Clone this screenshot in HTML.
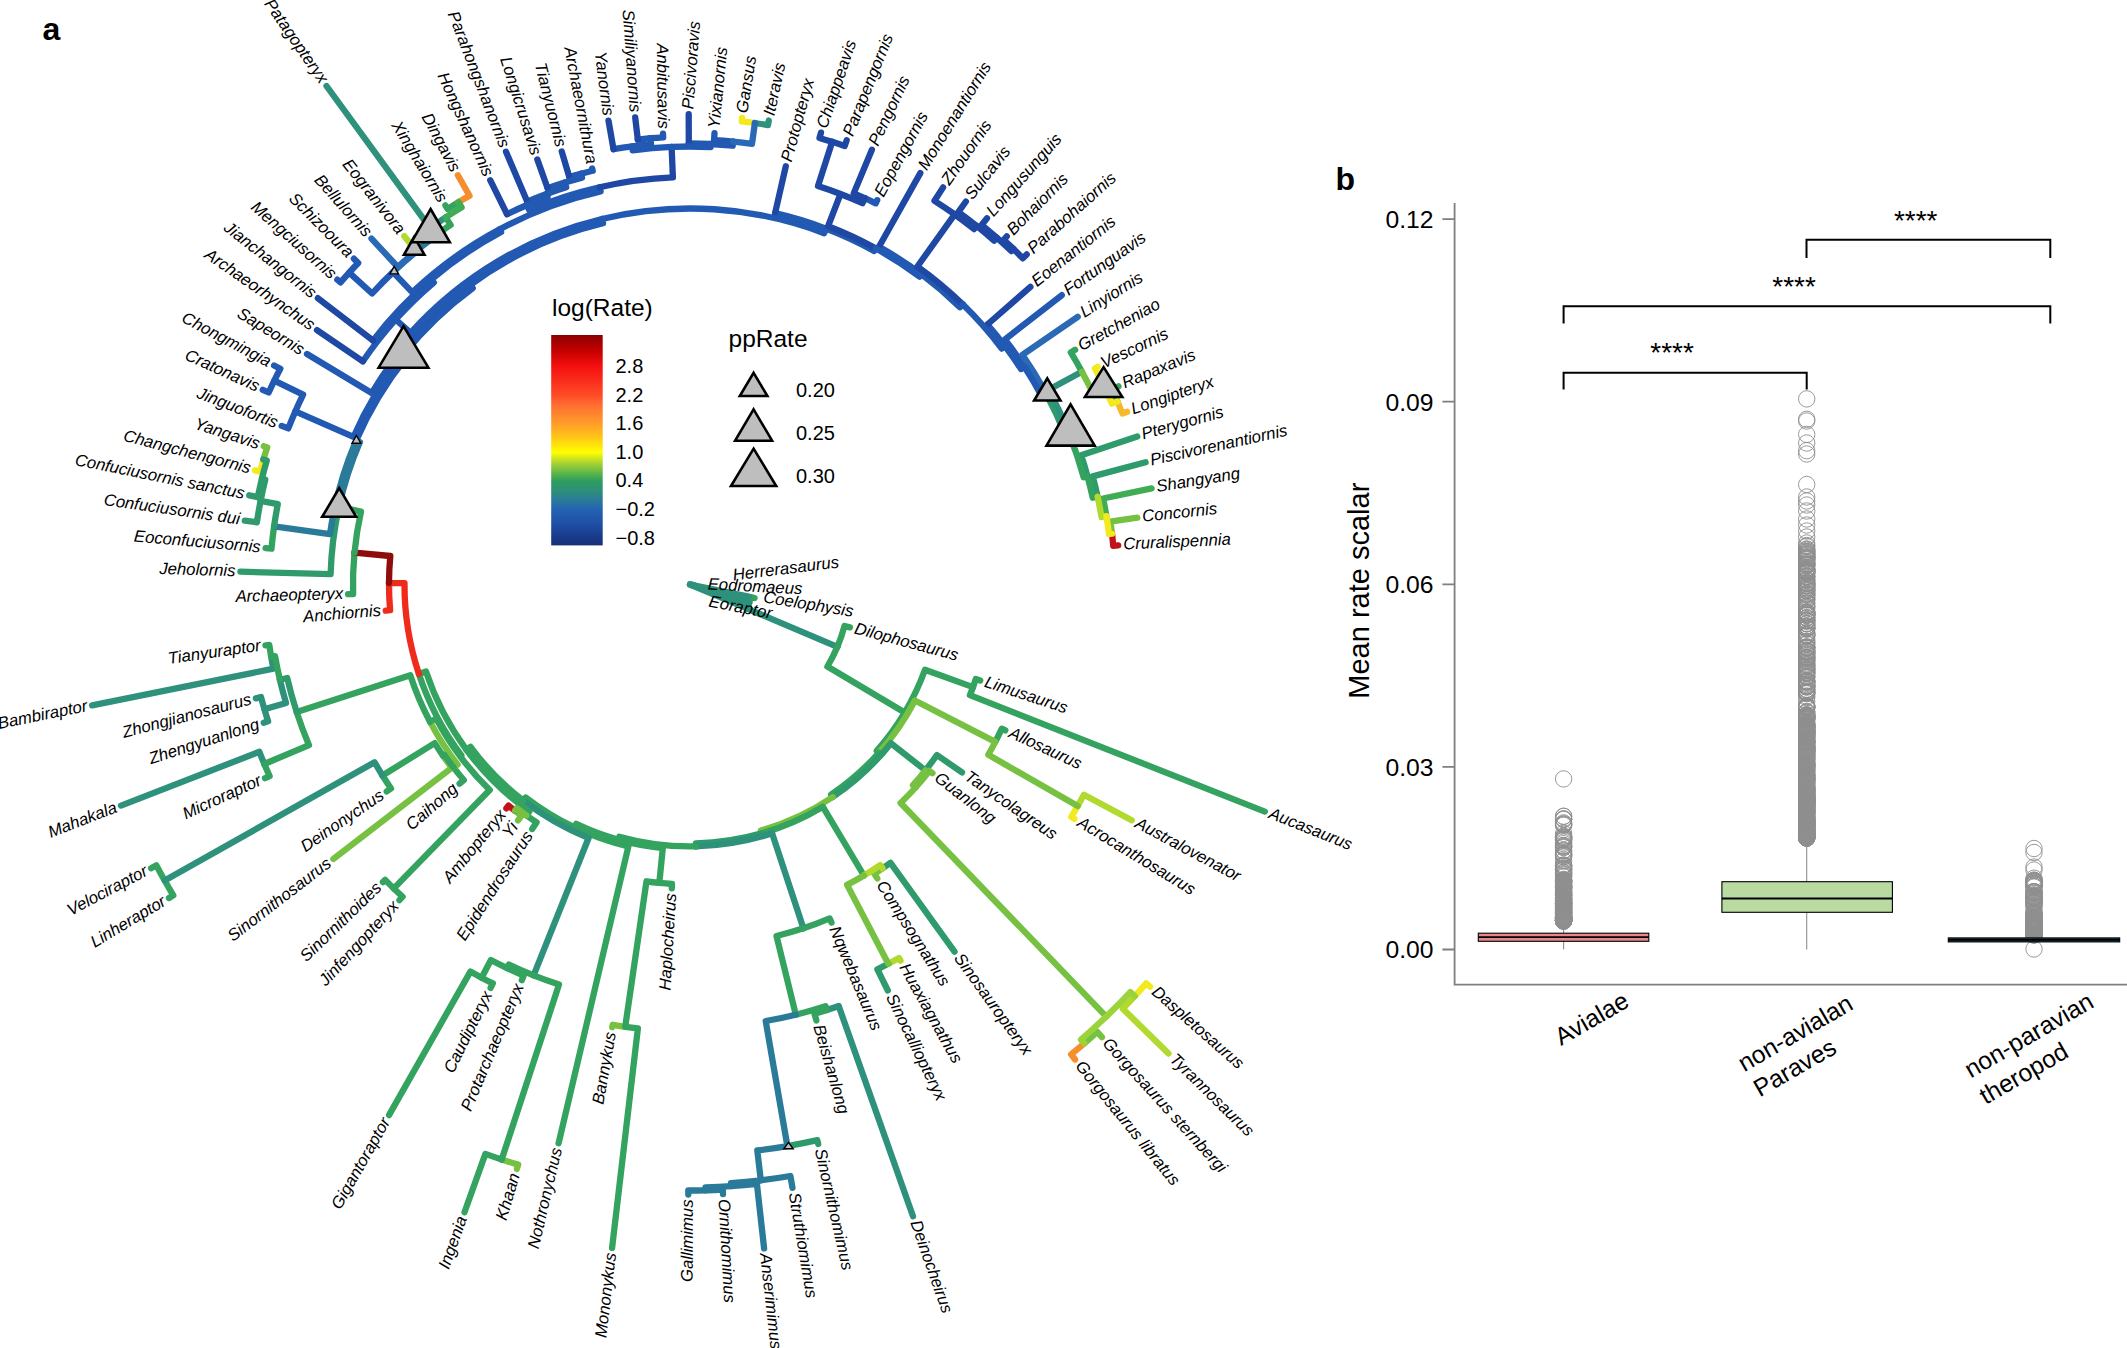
<!DOCTYPE html>
<html><head><meta charset="utf-8"><title>Figure</title>
<style>html,body{margin:0;padding:0;background:#fff}svg{display:block}</style></head>
<body>
<svg width="2127" height="1348" viewBox="0 0 2127 1348">
<rect width="2127" height="1348" fill="#fff"/>
<defs><linearGradient id="cb" x1="0" y1="1" x2="0" y2="0"><stop offset="0.000" stop-color="#17307a"/><stop offset="0.033" stop-color="#193886"/><stop offset="0.101" stop-color="#1f4ea6"/><stop offset="0.169" stop-color="#2362b2"/><stop offset="0.215" stop-color="#2a7a9a"/><stop offset="0.260" stop-color="#2e8f78"/><stop offset="0.306" stop-color="#2f9d60"/><stop offset="0.340" stop-color="#56b44a"/><stop offset="0.374" stop-color="#8cc83c"/><stop offset="0.408" stop-color="#c6e024"/><stop offset="0.442" stop-color="#ffff00"/><stop offset="0.511" stop-color="#ffc814"/><stop offset="0.579" stop-color="#ff9d2a"/><stop offset="0.670" stop-color="#ff6c32"/><stop offset="0.716" stop-color="#ff4a26"/><stop offset="0.852" stop-color="#f40f0f"/><stop offset="0.920" stop-color="#c80000"/><stop offset="1.000" stop-color="#8b0000"/></linearGradient></defs>
<g fill="none" stroke-width="6.3" stroke-linecap="round" stroke-linejoin="round">
<path stroke="#2e917c" d="M690 584.5L692 584.6M691 584.7A1 1 0 0 0 691 584.6L693 584.8M691.9 584.9A2 2 0 0 0 692 584.8L694 585.1"/>
<path stroke="#33a35f" d="M749.2 603A62 62 0 0 0 750.7 597.1L754.6 598M837.4 646.8A160 160 0 0 0 844.5 626L849.9 627.4M973 687.1A301 301 0 0 0 975.8 679L980.2 680.5M973 687.1A301 301 0 0 1 969.9 695.1L1264.8 811.6M995.3 741.9A343.5 343.5 0 0 0 1001.8 728.7L1005.3 730.4"/>
<path stroke="#b2d92d" d="M1077.7 805.9A446.5 446.5 0 0 0 1083.9 794.8L1131.7 820.3"/>
<path stroke="#f2ea1e" d="M1077.7 805.9A446.5 446.5 0 0 1 1071.3 816.9L1074.4 818.8"/>
<path stroke="#2f9a6c" d="M925.4 770.4A300 300 0 0 0 936.9 755L962 772.4"/>
<path stroke="#77c142" d="M915.6 787.5A303.5 303.5 0 0 0 929.5 770.9L932.5 773.2"/>
<path stroke="#f2ea1e" d="M1134.7 996.2A606 606 0 0 0 1146.2 983.4L1150 986.7"/>
<path stroke="#b2d92d" d="M1134.7 996.2A606 606 0 0 1 1122.8 1008.7L1168.5 1053.5"/>
<path stroke="#77c142" d="M1084.3 1043.4A605 605 0 0 0 1097.2 1031.9L1101.9 1037.1"/>
<path stroke="#f58e2f" d="M1084.3 1043.4A605 605 0 0 1 1071.1 1054.4L1075.1 1059.5"/>
<path stroke="#2f9a6c" d="M882.5 868.4A343 343 0 0 0 890.5 862.8L954.5 951.6"/>
<path stroke="#77c142" d="M882.5 868.4A343 343 0 0 1 874.3 873.8L877.3 878.4"/>
<path stroke="#b2d92d" d="M888.3 963.8A428 428 0 0 0 899 958L900.5 960.6"/>
<path stroke="#2f9a6c" d="M888.3 963.8A428 428 0 0 1 877.4 969.3L887.8 990.5"/>
<path stroke="#33a35f" d="M803.4 928.3A362 362 0 0 0 829.7 918.4L831.5 922.6"/>
<path stroke="#2e917c" d="M826.7 1010.1A447 447 0 0 0 838.7 1006L913 1216.3"/>
<path stroke="#33a35f" d="M826.7 1010.1A447 447 0 0 1 814.5 1013.8L816.4 1020.5"/>
<path stroke="#2f9a6c" d="M787.4 1146.1A570 570 0 0 0 817.3 1140.1L818.2 1144"/>
<path stroke="#2a7a99" d="M760.8 1180.3A600 600 0 0 0 790.4 1176L792.5 1187.9M731.2 1186.1A603 603 0 0 0 756.9 1183.8L764.1 1248.4M705.5 1190.3A606 606 0 0 0 722.8 1189.6L723 1194.1M705.5 1190.3A606 606 0 0 1 688.3 1190.5L688.3 1194.5"/>
<path stroke="#33a35f" d="M659.3 882.9A300 300 0 0 0 672 884L671.8 888.4M625.2 1026.8A447 447 0 0 0 637.9 1028.4L612.1 1247.9"/>
<path stroke="#77c142" d="M625.2 1026.8A447 447 0 0 1 612.7 1024.8L612.2 1027.2"/>
<path stroke="#33a35f" d="M574.4 827.4A269 269 0 0 0 628.4 846.4L558.6 1143.3"/>
<path stroke="#77c142" d="M501.7 1159.5A605 605 0 0 0 518.2 1164.6L516.9 1168.9"/>
<path stroke="#33a35f" d="M501.7 1159.5A605 605 0 0 1 485.4 1153.9L464.5 1212.2M507.2 968.2A425 425 0 0 0 523.7 975.6L521.8 980.2M481.6 977.7A445 445 0 0 0 492.8 983.4L490.6 987.9M481.6 977.7A445 445 0 0 1 470.4 971.6L389 1115.1M526.5 815.5A283 283 0 0 0 536.6 822.3L532.2 829"/>
<path stroke="#77c142" d="M515 810.7A286 286 0 0 0 521.5 815.6L518 820.4"/>
<path stroke="#c1121b" d="M515 810.7A286 286 0 0 1 508.6 805.6L506.4 808.3"/>
<path stroke="#33a35f" d="M393.8 888.4A424.4 424.4 0 0 0 402.6 896.7L399.4 900.1M393.8 888.4A424.4 424.4 0 0 1 385.2 879.9L382.9 882.1M453.7 767.6A299 299 0 0 0 463.8 780L459.6 783.6"/>
<path stroke="#77c142" d="M443 755.6A300.5 300.5 0 0 0 451.8 767.7L333.3 858.9"/>
<path stroke="#33a35f" d="M382.5 775.5A362 362 0 0 0 391 788.5L386.7 791.4M164.7 880.5A603 603 0 0 0 173.3 895.4L169 898M164.7 880.5A603 603 0 0 1 156.4 865.4L151.1 868.2M264.3 764A462 462 0 0 0 269.6 776.1L265 778.2"/>
<path stroke="#2e917c" d="M264.3 764A462 462 0 0 1 259.4 751.8L121 805.6M264.4 709.2A443.5 443.5 0 0 0 268.1 721.3L263.7 722.8M264.4 709.2A443.5 443.5 0 0 1 261 697L255.9 698.4M271.2 656.8A425 425 0 0 0 273.4 668.7L92.1 705.4"/>
<path stroke="#33a35f" d="M271.2 656.8A425 425 0 0 1 269.3 644.9L265.5 645.4"/>
<path stroke="#ef2c1c" d="M389 583.1A301 301 0 0 0 390.1 610.2L385.8 610.6"/>
<path stroke="#33a35f" d="M354.5 552.6A337 337 0 0 0 353.1 594.1L348.1 594.2"/>
<path stroke="#2f9a6c" d="M339 506.8A359.5 359.5 0 0 0 330.6 574.2L240.4 571.7"/>
<path stroke="#33a35f" d="M274.1 526.3A420 420 0 0 0 271.5 548.6L265.6 548.1"/>
<path stroke="#2f9a6c" d="M260.6 500.8A437.5 437.5 0 0 0 256.9 522.3L244.8 520.6M261.9 478.7A441 441 0 0 0 257.8 497.1L249.2 495.3"/>
<path stroke="#f2ea1e" d="M263.4 459.5A444.5 444.5 0 0 0 260.1 471.7L255 470.4"/>
<path stroke="#77c142" d="M263.4 459.5A444.5 444.5 0 0 1 267.2 447.4L263.8 446.3"/>
<path stroke="#2259b3" d="M295.3 411.4A431 431 0 0 0 288.3 428.4L281.7 425.9M274.3 380.6A463 463 0 0 0 268.7 392.5L262.8 389.8M274.3 380.6A463 463 0 0 1 280.3 368.8L274.1 365.5M470.3 284.9A371.5 371.5 0 0 0 371.7 393L307 354M395.7 319.5A396 396 0 0 0 362.9 361.3"/>
<path stroke="#1e48a4" d="M362.9 361.3L317 330.1"/>
<path stroke="#2259b3" d="M431.2 279.5A400 400 0 0 0 373 340.6"/>
<path stroke="#1e48a4" d="M373 340.6L317.9 298.2"/>
<path stroke="#2259b3" d="M349.2 272.6A462 462 0 0 0 340.5 282.4L337.3 279.7M349.2 272.6A462 462 0 0 1 358.2 263L353.9 258.7"/>
<path stroke="#2a69b5" d="M415.1 251.9A431.5 431.5 0 0 0 397.8 267L371.5 238.6"/>
<path stroke="#b2d92d" d="M433 237.3A432 432 0 0 0 416 250.5L404.3 236.2"/>
<path stroke="#2e917c" d="M445.7 217.4A441 441 0 0 0 430.2 228.2L326.5 86"/>
<path stroke="#33a35f" d="M458.5 202.1A447 447 0 0 0 447.7 208.9L445.4 205.4"/>
<path stroke="#f58e2f" d="M458.5 202.1A447 447 0 0 1 469.5 195.7L457.9 175.3"/>
<path stroke="#2259b3" d="M527.1 205A413 413 0 0 0 507 214.2"/>
<path stroke="#1e48a4" d="M507 214.2L490.2 180.2"/>
<path stroke="#2259b3" d="M546.5 194A416 416 0 0 0 527.3 201.7"/>
<path stroke="#1e48a4" d="M527.3 201.7L506 151.7"/>
<path stroke="#2259b3" d="M564.7 182.6A421 421 0 0 0 547.6 188.3"/>
<path stroke="#1e48a4" d="M547.6 188.3L537.3 159.4"/>
<path stroke="#2259b3" d="M581 173.7A425 425 0 0 0 569.3 177"/>
<path stroke="#1e48a4" d="M569.3 177L561.7 151.4"/>
<path stroke="#2259b3" d="M581 173.7A425 425 0 0 1 592.7 170.8L592.2 168.5M632.2 146.3A442 442 0 0 0 613.5 149.2"/>
<path stroke="#1e48a4" d="M613.5 149.2L608.5 120.6"/>
<path stroke="#2259b3" d="M650.5 138.2A448 448 0 0 0 637.8 139.6"/>
<path stroke="#1e48a4" d="M637.8 139.6L635.2 117.3"/>
<path stroke="#2259b3" d="M650.5 138.2A448 448 0 0 1 663.2 137.3L663 133.7M710.7 144A441 441 0 0 0 688.8 143.5"/>
<path stroke="#1e48a4" d="M688.8 143.5L688.7 114.1"/>
<path stroke="#2259b3" d="M733.1 141.6A445 445 0 0 0 714.1 140.2L714.5 133.2"/>
<path stroke="#f2ea1e" d="M754.9 123A466 466 0 0 0 741.7 121.4L742.1 117.9"/>
<path stroke="#2e917c" d="M754.9 123A466 466 0 0 1 768 125.1L768.8 120.5"/>
<path stroke="#2259b3" d="M825.9 228.6A381 381 0 0 0 775.1 213.1"/>
<path stroke="#1e48a4" d="M775.1 213.1L785.8 166.3M832.2 141.8A465 465 0 0 0 819.5 137.9L821 132.6M832.2 141.8A465 465 0 0 1 844.7 146L846.7 140.3M864.7 198.2A424 424 0 0 0 853.7 193.4L871.9 149.7"/>
<path stroke="#2259b3" d="M864.7 198.2A424 424 0 0 1 875.7 203.3L877.2 200.2M921.5 274.3A387 387 0 0 0 879 246.8"/>
<path stroke="#1e48a4" d="M879 246.8L920.3 173.1M954.7 214.4A455 455 0 0 0 934.5 200.8L943.1 187.4M976.6 225.9A459 459 0 0 0 958.3 212.1L965.9 201.5M996.7 237.7A463 463 0 0 0 981.6 224.9L987 218.3M1013.4 248.9A466 466 0 0 0 1003.7 239.9L1006.8 236.4M1013.4 248.9A466 466 0 0 1 1022.8 258.3L1026.7 254.4"/>
<path stroke="#2259b3" d="M1005 346.1A395 395 0 0 0 987.4 324.5"/>
<path stroke="#1e48a4" d="M987.4 324.5L1030.4 286.9"/>
<path stroke="#2259b3" d="M1024.4 366.8A399 399 0 0 0 1004.9 339.4L1061.8 295.2"/>
<path stroke="#2a69b5" d="M1045.9 393.3A404 404 0 0 0 1022.4 354.9L1077.7 316.8"/>
<path stroke="#33a35f" d="M1081.9 371.7A446 446 0 0 0 1070.8 352.4L1075.1 349.8"/>
<path stroke="#f2ea1e" d="M1103.8 385.9A459 459 0 0 0 1094.9 368.4L1097.6 366.9"/>
<path stroke="#33a35f" d="M1117.4 401.4A465 465 0 0 0 1112 389.3L1118.4 386.3"/>
<path stroke="#f6b92d" d="M1117.4 401.4A465 465 0 0 1 1122.5 413.6L1127.1 411.8"/>
<path stroke="#2f9a6c" d="M1087.5 476.3A412 412 0 0 0 1081.2 455.2L1137.3 436.6M1097.6 496.6A417 417 0 0 0 1092.7 476.4L1145.6 462.2"/>
<path stroke="#40ad55" d="M1106.4 516.2A422 422 0 0 0 1103.1 498.5L1151.6 488.4"/>
<path stroke="#77c142" d="M1112 533.7A425 425 0 0 0 1110.3 521.7L1137.3 517.7"/>
<path stroke="#c1121b" d="M1112 533.7A425 425 0 0 1 1113.2 545.8L1118.2 545.3"/>
<path stroke="#2e917c" d="M690 584.5L691 584.7M691 584.7A1 1 0 0 1 691 584.7L691.9 584.9M691.9 584.9A2 2 0 0 1 691.9 585.1L749.2 603M749.2 603A62 62 0 0 1 747.1 608.6L837.4 646.8"/>
<path stroke="#33a35f" d="M837.4 646.8A160 160 0 0 1 827.4 666.5L904.7 712.5M904.7 712.5A250 250 0 0 0 925 669.7L973 687.1M904.7 712.5A250 250 0 0 1 876.7 750.8L878.9 752.8"/>
<path stroke="#77c142" d="M878.9 752.8A253 253 0 0 0 914.9 700.5L995.3 741.9M995.3 741.9A343.5 343.5 0 0 1 988.3 754.8L1077.7 805.9"/>
<path stroke="#33a35f" d="M878.9 752.8A253 253 0 0 1 831.1 794.5L832.8 797"/>
<path stroke="#2f9a6c" d="M832.8 797A256 256 0 0 0 890.9 743.2L925.4 770.4"/>
<path stroke="#77c142" d="M925.4 770.4A300 300 0 0 1 913 785.2L915.6 787.5M915.6 787.5A303.5 303.5 0 0 1 900.6 803L1106.3 1016.6"/>
<path stroke="#9ad33a" d="M1106.3 1016.6A600 600 0 0 0 1130.3 992.1L1134.7 996.2M1106.3 1016.6A600 600 0 0 1 1081 1039.6L1084.3 1043.4"/>
<path stroke="#77c142" d="M832.8 797A256 256 0 0 1 760.9 830.5L761.8 833.4"/>
<path stroke="#33a35f" d="M761.8 833.4A259 259 0 0 0 822.9 806.8L863.9 875.5"/>
<path stroke="#b2d92d" d="M863.9 875.5A339 339 0 0 0 880.2 865.1L882.5 868.4"/>
<path stroke="#77c142" d="M863.9 875.5A339 339 0 0 1 847.1 884.9L888.3 963.8"/>
<path stroke="#2f9a6c" d="M761.8 833.4A259 259 0 0 1 695.9 843.4L695.9 846.4"/>
<path stroke="#2e917c" d="M695.9 846.4A262 262 0 0 0 772.1 833.3L803.4 928.3"/>
<path stroke="#33a35f" d="M803.4 928.3A362 362 0 0 1 776.5 936L795.8 1014.7M795.8 1014.7A443 443 0 0 0 825.5 1006.3L826.7 1010.1"/>
<path stroke="#2a7a99" d="M795.8 1014.7A443 443 0 0 1 765.7 1021L787.4 1146.1M787.4 1146.1A570 570 0 0 1 757.3 1150.5L760.8 1180.3M760.8 1180.3A600 600 0 0 1 731 1183.1L731.2 1186.1M731.2 1186.1A603 603 0 0 1 705.5 1187.3L705.5 1190.3"/>
<path stroke="#33a35f" d="M695.9 846.4A262 262 0 0 1 619.3 836.8L618.5 839.7M618.5 839.7A265 265 0 0 0 662.8 848.1L659.3 882.9M659.3 882.9A300 300 0 0 1 646.5 881.3L625.2 1026.8M618.5 839.7A265 265 0 0 1 576.2 823.8L574.4 827.4M574.4 827.4A269 269 0 0 1 525.7 797.5L523.2 800.6"/>
<path stroke="#2e917c" d="M523.2 800.6A273 273 0 0 0 588.6 838L533.6 975.4"/>
<path stroke="#33a35f" d="M533.6 975.4A421 421 0 0 0 559 984.6L501.7 1159.5M533.6 975.4A421 421 0 0 1 508.9 964.5L507.2 968.2M507.2 968.2A425 425 0 0 1 490.9 960L481.6 977.7M523.2 800.6A273 273 0 0 1 470.5 746.9L466.5 749.8M466.5 749.8A278 278 0 0 0 529.4 811.4L526.5 815.5"/>
<path stroke="#77c142" d="M526.5 815.5A283 283 0 0 1 516.8 808.3L515 810.7"/>
<path stroke="#33a35f" d="M466.5 749.8A278 278 0 0 1 426 671.6L418.9 674M418.9 674A285.5 285.5 0 0 0 461.4 755.5L460.2 756.4M460.2 756.4A287 287 0 0 0 489.7 790L393.8 888.4M460.2 756.4A287 287 0 0 1 436.3 718.7L430.1 721.9"/>
<path stroke="#77c142" d="M430.1 721.9A294 294 0 0 0 457.6 764.6L453.7 767.6"/>
<path stroke="#33a35f" d="M453.7 767.6A299 299 0 0 1 444.2 754.8L443 755.6M443 755.6A300.5 300.5 0 0 1 434.7 743.1L382.5 775.5"/>
<path stroke="#2e917c" d="M382.5 775.5A362 362 0 0 1 374.6 762.2L164.7 880.5"/>
<path stroke="#33a35f" d="M430.1 721.9A294 294 0 0 1 410.3 675.2L296.7 712.1M296.7 712.1A413.5 413.5 0 0 0 309 745.2L264.3 764"/>
<path stroke="#2f9a6c" d="M296.7 712.1A413.5 413.5 0 0 1 287.2 678L279.9 679.7"/>
<path stroke="#2e917c" d="M279.9 679.7A421 421 0 0 0 286 702.9L264.4 709.2"/>
<path stroke="#33a35f" d="M279.9 679.7A421 421 0 0 1 275.1 656.2L271.2 656.8"/>
<path stroke="#ef2c1c" d="M418.9 674A285.5 285.5 0 0 1 404.5 583.2L389 583.1"/>
<path stroke="#8f0c0c" d="M389 583.1A301 301 0 0 1 390.3 556L354.5 552.6"/>
<path stroke="#33a35f" d="M354.5 552.6A337 337 0 0 1 361 511.6L339 506.8"/>
<path stroke="#2a7a99" d="M339 506.8A359.5 359.5 0 0 1 359.9 442.1L356.2 440.5M356.2 440.5A363.5 363.5 0 0 0 330 534.1L274.1 526.3"/>
<path stroke="#2f9a6c" d="M274.1 526.3A420 420 0 0 1 277.8 504.2L260.6 500.8M260.6 500.8A437.5 437.5 0 0 1 265.3 479.5L261.9 478.7M261.9 478.7A441 441 0 0 1 266.8 460.5L263.4 459.5"/>
<path stroke="#2259b3" d="M356.2 440.5A363.5 363.5 0 0 1 406.4 357.2L403.2 354.7M403.2 354.7A367.5 367.5 0 0 0 353.5 436.9L295.3 411.4M295.3 411.4A431 431 0 0 1 303.1 394.6L274.3 380.6M403.2 354.7A367.5 367.5 0 0 1 472.7 288.2L470.3 284.9M470.3 284.9A371.5 371.5 0 0 1 603 223.3L601.9 219M601.9 219A376 376 0 0 0 410.6 332.9L395.7 319.5M395.7 319.5A396 396 0 0 1 433.8 282.5L431.2 279.5M431.2 279.5A400 400 0 0 1 501.1 231.9L499.7 229.3M499.7 229.3A403 403 0 0 0 412.3 292.4L393 272.1M393 272.1A431 431 0 0 0 372.1 293.5L349.2 272.6"/>
<path stroke="#2a69b5" d="M393 272.1A431 431 0 0 1 415.5 252.3L415.1 251.9"/>
<path stroke="#2a7a99" d="M415.1 251.9A431.5 431.5 0 0 1 433.3 237.7L433 237.3"/>
<path stroke="#33a35f" d="M433 237.3A432 432 0 0 1 450.6 224.9L445.7 217.4"/>
<path stroke="#40ad55" d="M445.7 217.4A441 441 0 0 1 461.6 207.3L458.5 202.1"/>
<path stroke="#2259b3" d="M499.7 229.3A403 403 0 0 1 600.6 191.5L599.6 187.2M599.6 187.2A407.5 407.5 0 0 0 529.2 210L527.1 205M527.1 205A413 413 0 0 1 547.6 196.8L546.5 194M546.5 194A416 416 0 0 1 566.2 187.3L564.7 182.6M564.7 182.6A421 421 0 0 1 582 177.6L581 173.7"/>
<path stroke="#1e48a4" d="M599.6 187.2A407.5 407.5 0 0 1 672.9 177.4L671.6 146.9"/>
<path stroke="#2259b3" d="M671.6 146.9A438 438 0 0 0 632.7 150.3L632.2 146.3M632.2 146.3A442 442 0 0 1 651 144.2L650.5 138.2M671.6 146.9A438 438 0 0 1 710.6 147L710.7 144M710.7 144A441 441 0 0 1 732.7 145.6L733.1 141.6"/>
<path stroke="#2a69b5" d="M733.1 141.6A445 445 0 0 1 752 143.8L754.9 123"/>
<path stroke="#2259b3" d="M601.9 219A376 376 0 0 1 824.2 233.2L825.9 228.6M825.9 228.6A381 381 0 0 1 874.1 251L875.6 248.3"/>
<path stroke="#1e48a4" d="M875.6 248.3A384 384 0 0 0 828.1 226.2L840.5 194M840.5 194A418.5 418.5 0 0 0 818 186L832.2 141.8M840.5 194A418.5 418.5 0 0 1 862.5 203.2L864.7 198.2"/>
<path stroke="#2259b3" d="M875.6 248.3A384 384 0 0 1 919.7 276.7L921.5 274.3M921.5 274.3A387 387 0 0 1 959.9 307.2L962.7 304.3"/>
<path stroke="#1e48a4" d="M962.7 304.3A391 391 0 0 0 917.4 266.5L954.7 214.4M954.7 214.4A455 455 0 0 1 974.1 229.1L976.6 225.9M976.6 225.9A459 459 0 0 1 994.1 240.7L996.7 237.7M996.7 237.7A463 463 0 0 1 1011.3 251.1L1013.4 248.9"/>
<path stroke="#2259b3" d="M962.7 304.3A391 391 0 0 1 1001.8 348.6L1005 346.1M1005 346.1A395 395 0 0 1 1021 369L1024.4 366.8M1024.4 366.8A399 399 0 0 1 1041.5 395.7L1045.9 393.3"/>
<path stroke="#2f9a6c" d="M1045.9 393.3A404 404 0 0 1 1064.9 434L1068.6 432.5"/>
<path stroke="#2e917c" d="M1068.6 432.5A408 408 0 0 0 1048.6 389.8L1081.9 371.7"/>
<path stroke="#77c142" d="M1081.9 371.7A446 446 0 0 1 1092.1 391.5L1103.8 385.9"/>
<path stroke="#f2ea1e" d="M1103.8 385.9A459 459 0 0 1 1111.9 403.7L1117.4 401.4"/>
<path stroke="#33a35f" d="M1068.6 432.5A408 408 0 0 1 1083.7 477.3L1087.5 476.3M1087.5 476.3A412 412 0 0 1 1092.7 497.7L1097.6 496.6"/>
<path stroke="#b2d92d" d="M1097.6 496.6A417 417 0 0 1 1101.5 517L1106.4 516.2"/>
<path stroke="#f2ea1e" d="M1106.4 516.2A422 422 0 0 1 1109 534.1L1112 533.7"/>
<path stroke="#2e917c" d="M690 584.5L748.7 596.7M690 584.5L747.2 608.4"/>
</g>
<g fill="#bebebe" stroke="#000" stroke-width="2.6" stroke-linejoin="miter">
<path d="M403.5 326.2L428.4 367.7L378.6 367.7Z"/>
<path d="M339.2 488.1L356.2 516.8L322.2 516.8Z"/>
<path stroke-width="1.4" d="M356.4 435.5L360.8 443.2L352 443.2Z"/>
<path stroke-width="1.4" d="M394.2 266.4L398.5 273.9L389.9 273.9Z"/>
<path d="M414.2 236.9L424.5 254.8L403.9 254.8Z"/>
<path d="M430.6 209L449.8 242.2L411.4 242.2Z"/>
<path d="M1047.3 378.3L1060.5 400.5L1034.1 400.5Z"/>
<path d="M1070.6 404.4L1094.7 445.6L1046.5 445.6Z"/>
<path d="M1103.6 367.1L1122.3 397L1084.9 397Z"/>
<path stroke-width="1.4" d="M788.5 1142.4L793.2 1148.8L783.8 1148.8Z"/>
<path d="M753.6 372.9L767.4 396L739.8 396Z"/>
<path d="M753.6 409.3L772.1 440.7L735.1 440.7Z"/>
<path d="M753.6 448.7L776.2 486L731 486Z"/>
</g>
<g font-family="'Liberation Sans',Arial,sans-serif" font-style="italic" font-size="16.7" fill="#000">
<text transform="translate(733.6 580.4) rotate(-7)">Herrerasaurus</text>
<text transform="translate(707.5 589.5) rotate(2.9)">Eodromaeus</text>
<text transform="translate(708.1 606.5) rotate(11)">Eoraptor</text>
<text transform="translate(762.7 602.3) rotate(9.2)">Coelophysis</text>
<text transform="translate(854.8 628.7) rotate(15)" dy="0.28em">Dilophosaurus</text>
<text transform="translate(985 682) rotate(18.3)" dy="0.28em">Limusaurus</text>
<text transform="translate(1269.4 813.4) rotate(21.6)" dy="0.28em">Aucasaurus</text>
<text transform="translate(1009.8 732.5) rotate(24.8)" dy="0.28em">Allosaurus</text>
<text transform="translate(1136.1 822.6) rotate(28.1)" dy="0.28em">Australovenator</text>
<text transform="translate(1078.7 821.4) rotate(31.4)" dy="0.28em">Acrocanthosaurus</text>
<text transform="translate(966.2 775.2) rotate(34.6)" dy="0.28em">Tanycolagreus</text>
<text transform="translate(936.4 776.3) rotate(37.9)" dy="0.28em">Guanlong</text>
<text transform="translate(1153.8 989.9) rotate(41.2)" dy="0.28em">Daspletosaurus</text>
<text transform="translate(1172 1057) rotate(44.4)" dy="0.28em">Tyrannosaurus</text>
<text transform="translate(1105.3 1040.8) rotate(47.7)" dy="0.28em">Gorgosaurus sternbergi</text>
<text transform="translate(1078.3 1063.4) rotate(51)" dy="0.28em">Gorgosaurus libratus</text>
<text transform="translate(957.4 955.6) rotate(54.2)" dy="0.28em">Sinosauropteryx</text>
<text transform="translate(880 882.6) rotate(57.5)" dy="0.28em">Compsognathus</text>
<text transform="translate(903 965) rotate(60.8)" dy="0.28em">Huaxiagnathus</text>
<text transform="translate(890 995) rotate(64)" dy="0.28em">Sinocalliopteryx</text>
<text transform="translate(833.4 927.2) rotate(67.3)" dy="0.28em">Nqwebasaurus</text>
<text transform="translate(914.6 1221) rotate(70.6)" dy="0.28em">Deinocheirus</text>
<text transform="translate(817.8 1025.3) rotate(73.8)" dy="0.28em">Beishanlong</text>
<text transform="translate(819.3 1148.9) rotate(77.1)" dy="0.28em">Sinornithomimus</text>
<text transform="translate(793.3 1192.8) rotate(80.4)" dy="0.28em">Struthiomimus</text>
<text transform="translate(764.7 1253.3) rotate(83.6)" dy="0.28em">Anserimimus</text>
<text transform="translate(723.3 1199.1) rotate(86.9)" dy="0.28em">Ornithomimus</text>
<text transform="translate(688.2 1199.5) rotate(-89.8)" text-anchor="end" dy="0.28em">Gallimimus</text>
<text transform="translate(671.5 893.3) rotate(-86.6)" text-anchor="end" dy="0.28em">Haplocheirus</text>
<text transform="translate(611.5 1252.9) rotate(-83.3)" text-anchor="end" dy="0.28em">Mononykus</text>
<text transform="translate(611.4 1032.1) rotate(-80)" text-anchor="end" dy="0.28em">Bannykus</text>
<text transform="translate(557.5 1148.1) rotate(-76.8)" text-anchor="end" dy="0.28em">Nothronychus</text>
<text transform="translate(515.5 1173.7) rotate(-73.5)" text-anchor="end" dy="0.28em">Khaan</text>
<text transform="translate(462.8 1216.9) rotate(-70.2)" text-anchor="end" dy="0.28em">Ingenia</text>
<text transform="translate(519.8 984.8) rotate(-67)" text-anchor="end" dy="0.28em">Protarchaeopteryx</text>
<text transform="translate(488.4 992.4) rotate(-63.7)" text-anchor="end" dy="0.28em">Caudipteryx</text>
<text transform="translate(386.6 1119.4) rotate(-60.4)" text-anchor="end" dy="0.28em">Gigantoraptor</text>
<text transform="translate(529.5 833.2) rotate(-57.2)" text-anchor="end" dy="0.28em">Epidendrosaurus</text>
<text transform="translate(515 824.5) rotate(-53.9)" text-anchor="end" dy="0.28em">Yi</text>
<text transform="translate(503.2 812.2) rotate(-50.6)" text-anchor="end" dy="0.28em">Ambopteryx</text>
<text transform="translate(396.1 903.8) rotate(-47.4)" text-anchor="end" dy="0.28em">Jinfengopteryx</text>
<text transform="translate(379.3 885.6) rotate(-44.1)" text-anchor="end" dy="0.28em">Sinornithoides</text>
<text transform="translate(455.8 786.9) rotate(-40.8)" text-anchor="end" dy="0.28em">Caihong</text>
<text transform="translate(329.4 861.9) rotate(-37.6)" text-anchor="end" dy="0.28em">Sinornithosaurus</text>
<text transform="translate(382.5 794.2) rotate(-34.3)" text-anchor="end" dy="0.28em">Deinonychus</text>
<text transform="translate(164.7 900.5) rotate(-31)" text-anchor="end" dy="0.28em">Linheraptor</text>
<text transform="translate(146.7 870.6) rotate(-27.8)" text-anchor="end" dy="0.28em">Velociraptor</text>
<text transform="translate(260.5 780.2) rotate(-24.5)" text-anchor="end" dy="0.28em">Microraptor</text>
<text transform="translate(116.4 807.4) rotate(-21.2)" text-anchor="end" dy="0.28em">Mahakala</text>
<text transform="translate(258.9 724.3) rotate(-18)" text-anchor="end" dy="0.28em">Zhengyuanlong</text>
<text transform="translate(251.1 699.7) rotate(-14.7)" text-anchor="end" dy="0.28em">Zhongjianosaurus</text>
<text transform="translate(87.2 706.4) rotate(-11.4)" text-anchor="end" dy="0.28em">Bambiraptor</text>
<text transform="translate(260.6 646.1) rotate(-8.2)" text-anchor="end" dy="0.28em">Tianyuraptor</text>
<text transform="translate(380.8 611) rotate(-4.9)" text-anchor="end" dy="0.28em">Anchiornis</text>
<text transform="translate(343.1 594.4) rotate(-1.6)" text-anchor="end" dy="0.28em">Archaeopteryx</text>
<text transform="translate(235.4 571.5) rotate(1.6)" text-anchor="end" dy="0.28em">Jeholornis</text>
<text transform="translate(260.6 547.7) rotate(4.9)" text-anchor="end" dy="0.28em">Eoconfuciusornis</text>
<text transform="translate(239.8 519.9) rotate(8.2)" text-anchor="end" dy="0.28em">Confuciusornis dui</text>
<text transform="translate(244.3 494.4) rotate(11.4)" text-anchor="end" dy="0.28em">Confuciusornis sanctus</text>
<text transform="translate(250.2 469.1) rotate(14.7)" text-anchor="end" dy="0.28em">Changchengornis</text>
<text transform="translate(259.1 444.8) rotate(18)" text-anchor="end" dy="0.28em">Yangavis</text>
<text transform="translate(277.1 424) rotate(21.2)" text-anchor="end" dy="0.28em">Jinguofortis</text>
<text transform="translate(258.2 387.7) rotate(24.5)" text-anchor="end" dy="0.28em">Cratonavis</text>
<text transform="translate(269.7 363.2) rotate(27.9)" text-anchor="end" dy="0.28em">Chongmingia</text>
<text transform="translate(302.7 351.5) rotate(31.3)" text-anchor="end" dy="0.28em">Sapeornis</text>
<text transform="translate(312.9 327.2) rotate(34.8)" text-anchor="end" dy="0.28em">Archaeorhynchus</text>
<text transform="translate(313.9 295.2) rotate(38.2)" text-anchor="end" dy="0.28em">Jianchangornis</text>
<text transform="translate(333.5 276.4) rotate(41.6)" text-anchor="end" dy="0.28em">Mengciusornis</text>
<text transform="translate(350.3 255.2) rotate(45)" text-anchor="end" dy="0.28em">Schizooura</text>
<text transform="translate(368.2 234.9) rotate(48.4)" text-anchor="end" dy="0.28em">Bellulornis</text>
<text transform="translate(401.1 232.3) rotate(51.8)" text-anchor="end" dy="0.28em">Eogranivora</text>
<text transform="translate(323.5 81.9) rotate(55.3)" text-anchor="end" dy="0.28em">Patagopteryx</text>
<text transform="translate(442.7 201.2) rotate(58.7)" text-anchor="end" dy="0.28em">Xinghaiornis</text>
<text transform="translate(455.4 171) rotate(62.1)" text-anchor="end" dy="0.28em">Dingavis</text>
<text transform="translate(488 175.7) rotate(65.5)" text-anchor="end" dy="0.28em">Hongshanornis</text>
<text transform="translate(504.1 147.1) rotate(68.9)" text-anchor="end" dy="0.28em">Parahongshanornis</text>
<text transform="translate(535.6 154.7) rotate(72.3)" text-anchor="end" dy="0.28em">Longicrusavis</text>
<text transform="translate(560.3 146.6) rotate(75.8)" text-anchor="end" dy="0.28em">Tianyuornis</text>
<text transform="translate(591.1 163.7) rotate(79.2)" text-anchor="end" dy="0.28em">Archaeornithura</text>
<text transform="translate(607.6 115.7) rotate(82.6)" text-anchor="end" dy="0.28em">Yanornis</text>
<text transform="translate(634.6 112.3) rotate(85.9)" text-anchor="end" dy="0.28em">Similiyanornis</text>
<text transform="translate(662.7 128.7) rotate(89.2)" text-anchor="end" dy="0.28em">Anbitusavis</text>
<text transform="translate(688.7 109.1) rotate(-85.6)" dy="0.28em">Piscivoravis</text>
<text transform="translate(714.7 128.2) rotate(-84.3)" dy="0.28em">Yixianornis</text>
<text transform="translate(742.7 112.9) rotate(-81)" dy="0.28em">Gansus</text>
<text transform="translate(769.6 115.6) rotate(-77.8)" dy="0.28em">Iteravis</text>
<text transform="translate(786.9 161.5) rotate(-74.5)" dy="0.28em">Protopteryx</text>
<text transform="translate(822.4 127.8) rotate(-71.2)" dy="0.28em">Chiappeavis</text>
<text transform="translate(848.4 135.6) rotate(-68)" dy="0.28em">Parapengornis</text>
<text transform="translate(873.8 145.1) rotate(-64.7)" dy="0.28em">Pengornis</text>
<text transform="translate(879.4 195.7) rotate(-61.4)" dy="0.28em">Eopengornis</text>
<text transform="translate(922.7 168.7) rotate(-58.2)" dy="0.28em">Monoenantiornis</text>
<text transform="translate(945.7 183.2) rotate(-54.9)" dy="0.28em">Zhouornis</text>
<text transform="translate(968.8 197.5) rotate(-51.6)" dy="0.28em">Sulcavis</text>
<text transform="translate(990.1 214.4) rotate(-48.4)" dy="0.28em">Longusunguis</text>
<text transform="translate(1010.2 232.7) rotate(-45.1)" dy="0.28em">Bohaiornis</text>
<text transform="translate(1030.3 250.9) rotate(-41.8)" dy="0.28em">Parabohaiornis</text>
<text transform="translate(1034.2 283.6) rotate(-38.6)" dy="0.28em">Eoenantiornis</text>
<text transform="translate(1065.7 292.1) rotate(-35.3)" dy="0.28em">Fortunguavis</text>
<text transform="translate(1081.9 313.9) rotate(-32)" dy="0.28em">Linyiornis</text>
<text transform="translate(1079.4 347.2) rotate(-28.8)" dy="0.28em">Gretcheniao</text>
<text transform="translate(1102 364.6) rotate(-25.5)" dy="0.28em">Vescornis</text>
<text transform="translate(1122.9 384.2) rotate(-22.2)" dy="0.28em">Rapaxavis</text>
<text transform="translate(1131.8 410) rotate(-19)" dy="0.28em">Longipteryx</text>
<text transform="translate(1142 435.1) rotate(-15.7)" dy="0.28em">Pterygornis</text>
<text transform="translate(1150.4 460.9) rotate(-12.4)" dy="0.28em">Piscivorenantiornis</text>
<text transform="translate(1156.5 487.4) rotate(-9.2)" dy="0.28em">Shangyang</text>
<text transform="translate(1142.3 517) rotate(-5.9)" dy="0.28em">Concornis</text>
<text transform="translate(1123.2 544.9) rotate(-2.6)" dy="0.28em">Cruralispennia</text>
</g>
<rect x="551.2" y="335" width="51.5" height="210.4" fill="url(#cb)"/>
<g font-family="'Liberation Sans',Arial,sans-serif" fill="#000">
<text x="552" y="315.6" font-size="24.5">log(Rate)</text>
<text x="728.5" y="347" font-size="24.5">ppRate</text>
<text x="615.5" y="372.8" font-size="20">2.8</text>
<text x="615.5" y="401.5" font-size="20">2.2</text>
<text x="615.5" y="430.1" font-size="20">1.6</text>
<text x="615.5" y="458.7" font-size="20">1.0</text>
<text x="615.5" y="487.4" font-size="20">0.4</text>
<text x="615.5" y="516.1" font-size="20">−0.2</text>
<text x="615.5" y="545" font-size="20">−0.8</text>
<text x="796" y="397.3" font-size="20">0.20</text>
<text x="796" y="439.7" font-size="20">0.25</text>
<text x="796" y="482.6" font-size="20">0.30</text>
<text x="42.5" y="39.5" font-size="32" font-weight="bold">a</text>
<text x="1335.5" y="189.8" font-size="32" font-weight="bold">b</text>
</g>
<g stroke="#7f7f7f" stroke-width="1.8" fill="none">
<path d="M1454.6 203V984.6H2127"/>
<path d="M1442.4 949.5H1454.6M1442.4 766.9H1454.6M1442.4 584.3H1454.6M1442.4 401.7H1454.6M1442.4 219.1H1454.6"/>
</g>
<g font-family="'Liberation Sans',Arial,sans-serif" fill="#000" font-size="24.7">
<text x="1433.5" y="958.3" text-anchor="end">0.00</text>
<text x="1433.5" y="775.7" text-anchor="end">0.03</text>
<text x="1433.5" y="593.1" text-anchor="end">0.06</text>
<text x="1433.5" y="410.5" text-anchor="end">0.09</text>
<text x="1433.5" y="227.9" text-anchor="end">0.12</text>
<text transform="translate(1368.5 590.7) rotate(-90)" text-anchor="middle" font-size="29">Mean rate scalar</text>
<text transform="translate(1561 1046) rotate(-30)">Avialae</text>
<text transform="translate(1744.2 1072.3) rotate(-30)">non-avialan</text>
<text transform="translate(1759.7 1097.5) rotate(-30)">Paraves</text>
<text transform="translate(1970.7 1078.4) rotate(-30)">non-paravian</text>
<text transform="translate(1985.8 1104.9) rotate(-30)">theropod</text>
<text x="1915.7" y="229.5" text-anchor="middle" font-size="28">****</text>
<text x="1794.1" y="295.6" text-anchor="middle" font-size="28">****</text>
<text x="1672.1" y="362.2" text-anchor="middle" font-size="28">****</text>
</g>
<path fill="none" stroke="#000" stroke-width="2" d="M1806.5 258V239.8H2050.3V258M1563.6 323.4V306.3H2050.3V323.4M1563.6 389.5V372.8H1806.7V389.5"/>
<path fill="none" stroke="#9a9a9a" stroke-width="17.2" stroke-linecap="round" d="M1563.6 880V921M1806.7 715V838M2034 897V935"/>
<g fill="none" stroke="#8f8f8f" stroke-width="0.9">
<circle cx="1563.6" cy="778.9" r="8.2"/><circle cx="1563.6" cy="816.3" r="8.2"/><circle cx="1563.6" cy="816.3" r="8.2"/><circle cx="1563.6" cy="818.8" r="8.2"/><circle cx="1563.6" cy="819.1" r="8.2"/><circle cx="1563.6" cy="819.5" r="8.2"/><circle cx="1563.6" cy="822.9" r="8.2"/><circle cx="1563.6" cy="823.8" r="8.2"/><circle cx="1563.6" cy="824.2" r="8.2"/><circle cx="1563.6" cy="824.8" r="8.2"/><circle cx="1563.6" cy="825.3" r="8.2"/><circle cx="1563.6" cy="833.4" r="8.2"/><circle cx="1563.6" cy="836.1" r="8.2"/><circle cx="1563.6" cy="836.2" r="8.2"/><circle cx="1563.6" cy="837.6" r="8.2"/><circle cx="1563.6" cy="837.6" r="8.2"/><circle cx="1563.6" cy="837.7" r="8.2"/><circle cx="1563.6" cy="837.8" r="8.2"/><circle cx="1563.6" cy="838.3" r="8.2"/><circle cx="1563.6" cy="839.5" r="8.2"/><circle cx="1563.6" cy="839.6" r="8.2"/><circle cx="1563.6" cy="840.5" r="8.2"/><circle cx="1563.6" cy="842.1" r="8.2"/><circle cx="1563.6" cy="843.6" r="8.2"/><circle cx="1563.6" cy="845.4" r="8.2"/><circle cx="1563.6" cy="845.7" r="8.2"/><circle cx="1563.6" cy="846.5" r="8.2"/><circle cx="1563.6" cy="847" r="8.2"/><circle cx="1563.6" cy="847.5" r="8.2"/><circle cx="1563.6" cy="850.4" r="8.2"/><circle cx="1563.6" cy="851" r="8.2"/><circle cx="1563.6" cy="853.2" r="8.2"/><circle cx="1563.6" cy="853.4" r="8.2"/><circle cx="1563.6" cy="854.5" r="8.2"/><circle cx="1563.6" cy="855.1" r="8.2"/><circle cx="1563.6" cy="855.6" r="8.2"/><circle cx="1563.6" cy="856.8" r="8.2"/><circle cx="1563.6" cy="860.9" r="8.2"/><circle cx="1563.6" cy="865" r="8.2"/><circle cx="1563.6" cy="865.4" r="8.2"/><circle cx="1563.6" cy="865.8" r="8.2"/><circle cx="1563.6" cy="865.9" r="8.2"/><circle cx="1563.6" cy="866.6" r="8.2"/><circle cx="1563.6" cy="868" r="8.2"/><circle cx="1563.6" cy="868.6" r="8.2"/><circle cx="1563.6" cy="869.6" r="8.2"/><circle cx="1563.6" cy="869.7" r="8.2"/><circle cx="1563.6" cy="870.3" r="8.2"/><circle cx="1563.6" cy="872.1" r="8.2"/><circle cx="1563.6" cy="872.6" r="8.2"/><circle cx="1563.6" cy="873.7" r="8.2"/><circle cx="1563.6" cy="874.3" r="8.2"/><circle cx="1563.6" cy="875.2" r="8.2"/><circle cx="1563.6" cy="876.5" r="8.2"/><circle cx="1563.6" cy="876.9" r="8.2"/><circle cx="1563.6" cy="879.4" r="8.2"/><circle cx="1563.6" cy="880.1" r="8.2"/><circle cx="1563.6" cy="880.5" r="8.2"/><circle cx="1563.6" cy="881" r="8.2"/><circle cx="1563.6" cy="881.3" r="8.2"/><circle cx="1563.6" cy="881.6" r="8.2"/><circle cx="1563.6" cy="881.9" r="8.2"/><circle cx="1563.6" cy="882.1" r="8.2"/><circle cx="1563.6" cy="882.9" r="8.2"/><circle cx="1563.6" cy="884.9" r="8.2"/><circle cx="1563.6" cy="885.1" r="8.2"/><circle cx="1563.6" cy="885.7" r="8.2"/><circle cx="1563.6" cy="886.5" r="8.2"/><circle cx="1563.6" cy="886.9" r="8.2"/><circle cx="1563.6" cy="887.4" r="8.2"/><circle cx="1563.6" cy="887.4" r="8.2"/><circle cx="1563.6" cy="887.7" r="8.2"/><circle cx="1563.6" cy="888.8" r="8.2"/><circle cx="1563.6" cy="889.7" r="8.2"/><circle cx="1563.6" cy="891.8" r="8.2"/><circle cx="1563.6" cy="892.2" r="8.2"/><circle cx="1563.6" cy="892.3" r="8.2"/><circle cx="1563.6" cy="893.3" r="8.2"/><circle cx="1563.6" cy="894.2" r="8.2"/><circle cx="1563.6" cy="894.6" r="8.2"/><circle cx="1563.6" cy="895.2" r="8.2"/><circle cx="1563.6" cy="895.5" r="8.2"/><circle cx="1563.6" cy="895.9" r="8.2"/><circle cx="1563.6" cy="897.4" r="8.2"/><circle cx="1563.6" cy="898" r="8.2"/><circle cx="1563.6" cy="898.3" r="8.2"/><circle cx="1563.6" cy="898.9" r="8.2"/><circle cx="1563.6" cy="898.9" r="8.2"/><circle cx="1563.6" cy="899.2" r="8.2"/><circle cx="1563.6" cy="900.7" r="8.2"/><circle cx="1563.6" cy="900.9" r="8.2"/><circle cx="1563.6" cy="901.3" r="8.2"/><circle cx="1563.6" cy="901.5" r="8.2"/><circle cx="1563.6" cy="901.9" r="8.2"/><circle cx="1563.6" cy="903.1" r="8.2"/><circle cx="1563.6" cy="903.4" r="8.2"/><circle cx="1563.6" cy="903.6" r="8.2"/><circle cx="1563.6" cy="903.7" r="8.2"/><circle cx="1563.6" cy="903.8" r="8.2"/><circle cx="1563.6" cy="903.8" r="8.2"/><circle cx="1563.6" cy="904.3" r="8.2"/><circle cx="1563.6" cy="905.2" r="8.2"/><circle cx="1563.6" cy="905.6" r="8.2"/><circle cx="1563.6" cy="905.8" r="8.2"/><circle cx="1563.6" cy="906.6" r="8.2"/><circle cx="1563.6" cy="907.1" r="8.2"/><circle cx="1563.6" cy="907.8" r="8.2"/><circle cx="1563.6" cy="907.8" r="8.2"/><circle cx="1563.6" cy="908.2" r="8.2"/><circle cx="1563.6" cy="908.9" r="8.2"/><circle cx="1563.6" cy="909.6" r="8.2"/><circle cx="1563.6" cy="909.7" r="8.2"/><circle cx="1563.6" cy="910" r="8.2"/><circle cx="1563.6" cy="910.4" r="8.2"/><circle cx="1563.6" cy="911.3" r="8.2"/><circle cx="1563.6" cy="911.4" r="8.2"/><circle cx="1563.6" cy="911.5" r="8.2"/><circle cx="1563.6" cy="912.1" r="8.2"/><circle cx="1563.6" cy="912.4" r="8.2"/><circle cx="1563.6" cy="912.6" r="8.2"/><circle cx="1563.6" cy="913.3" r="8.2"/><circle cx="1563.6" cy="913.4" r="8.2"/><circle cx="1563.6" cy="913.9" r="8.2"/><circle cx="1563.6" cy="913.9" r="8.2"/><circle cx="1563.6" cy="914.7" r="8.2"/><circle cx="1563.6" cy="914.8" r="8.2"/><circle cx="1563.6" cy="916.1" r="8.2"/><circle cx="1563.6" cy="916.3" r="8.2"/><circle cx="1563.6" cy="916.7" r="8.2"/><circle cx="1563.6" cy="916.8" r="8.2"/><circle cx="1563.6" cy="917" r="8.2"/><circle cx="1563.6" cy="917" r="8.2"/><circle cx="1563.6" cy="917.4" r="8.2"/><circle cx="1563.6" cy="917.5" r="8.2"/><circle cx="1563.6" cy="917.5" r="8.2"/><circle cx="1563.6" cy="917.5" r="8.2"/><circle cx="1563.6" cy="917.6" r="8.2"/><circle cx="1563.6" cy="917.7" r="8.2"/><circle cx="1563.6" cy="917.8" r="8.2"/><circle cx="1563.6" cy="918.3" r="8.2"/><circle cx="1563.6" cy="918.5" r="8.2"/><circle cx="1563.6" cy="918.6" r="8.2"/><circle cx="1563.6" cy="918.7" r="8.2"/><circle cx="1563.6" cy="918.7" r="8.2"/><circle cx="1563.6" cy="918.8" r="8.2"/><circle cx="1563.6" cy="919.2" r="8.2"/><circle cx="1563.6" cy="919.3" r="8.2"/><circle cx="1563.6" cy="919.3" r="8.2"/><circle cx="1563.6" cy="919.6" r="8.2"/><circle cx="1563.6" cy="919.7" r="8.2"/><circle cx="1563.6" cy="919.9" r="8.2"/><circle cx="1563.6" cy="920.1" r="8.2"/><circle cx="1563.6" cy="920.1" r="8.2"/><circle cx="1563.6" cy="920.2" r="8.2"/><circle cx="1563.6" cy="920.3" r="8.2"/><circle cx="1563.6" cy="920.3" r="8.2"/><circle cx="1563.6" cy="920.3" r="8.2"/><circle cx="1563.6" cy="920.3" r="8.2"/><circle cx="1563.6" cy="920.4" r="8.2"/><circle cx="1563.6" cy="920.4" r="8.2"/><circle cx="1563.6" cy="920.4" r="8.2"/><circle cx="1563.6" cy="920.5" r="8.2"/><circle cx="1563.6" cy="920.6" r="8.2"/><circle cx="1563.6" cy="920.7" r="8.2"/><circle cx="1563.6" cy="920.7" r="8.2"/><circle cx="1563.6" cy="920.8" r="8.2"/><circle cx="1563.6" cy="920.9" r="8.2"/><circle cx="1563.6" cy="920.9" r="8.2"/><circle cx="1563.6" cy="920.9" r="8.2"/><circle cx="1563.6" cy="921" r="8.2"/><circle cx="1563.6" cy="921" r="8.2"/>
<circle cx="1806.7" cy="398.9" r="8.2"/><circle cx="1806.7" cy="419.3" r="8.2"/><circle cx="1806.7" cy="421" r="8.2"/><circle cx="1806.7" cy="434.4" r="8.2"/><circle cx="1806.7" cy="443" r="8.2"/><circle cx="1806.7" cy="450.7" r="8.2"/><circle cx="1806.7" cy="454" r="8.2"/><circle cx="1806.7" cy="484.5" r="8.2"/><circle cx="1806.7" cy="497" r="8.2"/><circle cx="1806.7" cy="501" r="8.2"/><circle cx="1806.7" cy="505" r="8.2"/><circle cx="1806.7" cy="511" r="8.2"/><circle cx="1806.7" cy="519" r="8.2"/><circle cx="1806.7" cy="525" r="8.2"/><circle cx="1806.7" cy="531" r="8.2"/><circle cx="1806.7" cy="537" r="8.2"/><circle cx="1806.7" cy="543" r="8.2"/><circle cx="1806.7" cy="549" r="8.2"/><circle cx="1806.7" cy="554" r="8.2"/><circle cx="1806.7" cy="545.5" r="8.2"/><circle cx="1806.7" cy="546.5" r="8.2"/><circle cx="1806.7" cy="549.4" r="8.2"/><circle cx="1806.7" cy="550.2" r="8.2"/><circle cx="1806.7" cy="551.5" r="8.2"/><circle cx="1806.7" cy="551.6" r="8.2"/><circle cx="1806.7" cy="551.7" r="8.2"/><circle cx="1806.7" cy="552.7" r="8.2"/><circle cx="1806.7" cy="553.6" r="8.2"/><circle cx="1806.7" cy="554.6" r="8.2"/><circle cx="1806.7" cy="555.4" r="8.2"/><circle cx="1806.7" cy="555.6" r="8.2"/><circle cx="1806.7" cy="556.9" r="8.2"/><circle cx="1806.7" cy="557.1" r="8.2"/><circle cx="1806.7" cy="557.4" r="8.2"/><circle cx="1806.7" cy="557.4" r="8.2"/><circle cx="1806.7" cy="557.7" r="8.2"/><circle cx="1806.7" cy="558.9" r="8.2"/><circle cx="1806.7" cy="559.1" r="8.2"/><circle cx="1806.7" cy="559.1" r="8.2"/><circle cx="1806.7" cy="560" r="8.2"/><circle cx="1806.7" cy="561.6" r="8.2"/><circle cx="1806.7" cy="562.1" r="8.2"/><circle cx="1806.7" cy="562.9" r="8.2"/><circle cx="1806.7" cy="563.9" r="8.2"/><circle cx="1806.7" cy="564.1" r="8.2"/><circle cx="1806.7" cy="564.6" r="8.2"/><circle cx="1806.7" cy="565" r="8.2"/><circle cx="1806.7" cy="565.5" r="8.2"/><circle cx="1806.7" cy="565.6" r="8.2"/><circle cx="1806.7" cy="568.1" r="8.2"/><circle cx="1806.7" cy="568.6" r="8.2"/><circle cx="1806.7" cy="569.6" r="8.2"/><circle cx="1806.7" cy="570" r="8.2"/><circle cx="1806.7" cy="570.3" r="8.2"/><circle cx="1806.7" cy="570.3" r="8.2"/><circle cx="1806.7" cy="570.7" r="8.2"/><circle cx="1806.7" cy="571.7" r="8.2"/><circle cx="1806.7" cy="572.2" r="8.2"/><circle cx="1806.7" cy="572.6" r="8.2"/><circle cx="1806.7" cy="572.8" r="8.2"/><circle cx="1806.7" cy="573.2" r="8.2"/><circle cx="1806.7" cy="573.7" r="8.2"/><circle cx="1806.7" cy="576.6" r="8.2"/><circle cx="1806.7" cy="576.6" r="8.2"/><circle cx="1806.7" cy="576.6" r="8.2"/><circle cx="1806.7" cy="576.7" r="8.2"/><circle cx="1806.7" cy="579.5" r="8.2"/><circle cx="1806.7" cy="579.8" r="8.2"/><circle cx="1806.7" cy="580.4" r="8.2"/><circle cx="1806.7" cy="582.2" r="8.2"/><circle cx="1806.7" cy="582.6" r="8.2"/><circle cx="1806.7" cy="583.1" r="8.2"/><circle cx="1806.7" cy="583.6" r="8.2"/><circle cx="1806.7" cy="583.7" r="8.2"/><circle cx="1806.7" cy="585.2" r="8.2"/><circle cx="1806.7" cy="585.3" r="8.2"/><circle cx="1806.7" cy="585.8" r="8.2"/><circle cx="1806.7" cy="586" r="8.2"/><circle cx="1806.7" cy="587.2" r="8.2"/><circle cx="1806.7" cy="587.7" r="8.2"/><circle cx="1806.7" cy="588.8" r="8.2"/><circle cx="1806.7" cy="589.1" r="8.2"/><circle cx="1806.7" cy="589.6" r="8.2"/><circle cx="1806.7" cy="590.5" r="8.2"/><circle cx="1806.7" cy="590.8" r="8.2"/><circle cx="1806.7" cy="591.2" r="8.2"/><circle cx="1806.7" cy="593.1" r="8.2"/><circle cx="1806.7" cy="593.3" r="8.2"/><circle cx="1806.7" cy="594.4" r="8.2"/><circle cx="1806.7" cy="594.6" r="8.2"/><circle cx="1806.7" cy="595" r="8.2"/><circle cx="1806.7" cy="596.5" r="8.2"/><circle cx="1806.7" cy="597.6" r="8.2"/><circle cx="1806.7" cy="599" r="8.2"/><circle cx="1806.7" cy="599.5" r="8.2"/><circle cx="1806.7" cy="600" r="8.2"/><circle cx="1806.7" cy="603.2" r="8.2"/><circle cx="1806.7" cy="603.2" r="8.2"/><circle cx="1806.7" cy="605.9" r="8.2"/><circle cx="1806.7" cy="606.2" r="8.2"/><circle cx="1806.7" cy="607.3" r="8.2"/><circle cx="1806.7" cy="608.9" r="8.2"/><circle cx="1806.7" cy="611.9" r="8.2"/><circle cx="1806.7" cy="612.3" r="8.2"/><circle cx="1806.7" cy="612.3" r="8.2"/><circle cx="1806.7" cy="612.4" r="8.2"/><circle cx="1806.7" cy="612.8" r="8.2"/><circle cx="1806.7" cy="614.1" r="8.2"/><circle cx="1806.7" cy="614.3" r="8.2"/><circle cx="1806.7" cy="614.5" r="8.2"/><circle cx="1806.7" cy="614.6" r="8.2"/><circle cx="1806.7" cy="614.6" r="8.2"/><circle cx="1806.7" cy="615.5" r="8.2"/><circle cx="1806.7" cy="615.5" r="8.2"/><circle cx="1806.7" cy="617.8" r="8.2"/><circle cx="1806.7" cy="617.9" r="8.2"/><circle cx="1806.7" cy="618" r="8.2"/><circle cx="1806.7" cy="618.2" r="8.2"/><circle cx="1806.7" cy="620.3" r="8.2"/><circle cx="1806.7" cy="620.5" r="8.2"/><circle cx="1806.7" cy="620.8" r="8.2"/><circle cx="1806.7" cy="620.9" r="8.2"/><circle cx="1806.7" cy="621.1" r="8.2"/><circle cx="1806.7" cy="623.5" r="8.2"/><circle cx="1806.7" cy="623.6" r="8.2"/><circle cx="1806.7" cy="623.8" r="8.2"/><circle cx="1806.7" cy="625.8" r="8.2"/><circle cx="1806.7" cy="626" r="8.2"/><circle cx="1806.7" cy="626.5" r="8.2"/><circle cx="1806.7" cy="627.7" r="8.2"/><circle cx="1806.7" cy="628" r="8.2"/><circle cx="1806.7" cy="628.5" r="8.2"/><circle cx="1806.7" cy="628.7" r="8.2"/><circle cx="1806.7" cy="629.3" r="8.2"/><circle cx="1806.7" cy="632.6" r="8.2"/><circle cx="1806.7" cy="632.9" r="8.2"/><circle cx="1806.7" cy="634.5" r="8.2"/><circle cx="1806.7" cy="634.6" r="8.2"/><circle cx="1806.7" cy="635.3" r="8.2"/><circle cx="1806.7" cy="635.3" r="8.2"/><circle cx="1806.7" cy="636.5" r="8.2"/><circle cx="1806.7" cy="639.2" r="8.2"/><circle cx="1806.7" cy="641.2" r="8.2"/><circle cx="1806.7" cy="642" r="8.2"/><circle cx="1806.7" cy="643.9" r="8.2"/><circle cx="1806.7" cy="644.1" r="8.2"/><circle cx="1806.7" cy="646.7" r="8.2"/><circle cx="1806.7" cy="647.4" r="8.2"/><circle cx="1806.7" cy="647.5" r="8.2"/><circle cx="1806.7" cy="647.6" r="8.2"/><circle cx="1806.7" cy="647.8" r="8.2"/><circle cx="1806.7" cy="648.4" r="8.2"/><circle cx="1806.7" cy="650.3" r="8.2"/><circle cx="1806.7" cy="651.1" r="8.2"/><circle cx="1806.7" cy="651.5" r="8.2"/><circle cx="1806.7" cy="651.5" r="8.2"/><circle cx="1806.7" cy="651.9" r="8.2"/><circle cx="1806.7" cy="652.7" r="8.2"/><circle cx="1806.7" cy="653.8" r="8.2"/><circle cx="1806.7" cy="654.1" r="8.2"/><circle cx="1806.7" cy="654.4" r="8.2"/><circle cx="1806.7" cy="655.5" r="8.2"/><circle cx="1806.7" cy="657.1" r="8.2"/><circle cx="1806.7" cy="657.2" r="8.2"/><circle cx="1806.7" cy="657.4" r="8.2"/><circle cx="1806.7" cy="658.2" r="8.2"/><circle cx="1806.7" cy="658.3" r="8.2"/><circle cx="1806.7" cy="659.2" r="8.2"/><circle cx="1806.7" cy="660.4" r="8.2"/><circle cx="1806.7" cy="660.5" r="8.2"/><circle cx="1806.7" cy="661.6" r="8.2"/><circle cx="1806.7" cy="662.9" r="8.2"/><circle cx="1806.7" cy="663.9" r="8.2"/><circle cx="1806.7" cy="664.7" r="8.2"/><circle cx="1806.7" cy="665.2" r="8.2"/><circle cx="1806.7" cy="666.2" r="8.2"/><circle cx="1806.7" cy="666.7" r="8.2"/><circle cx="1806.7" cy="666.9" r="8.2"/><circle cx="1806.7" cy="668.8" r="8.2"/><circle cx="1806.7" cy="669.1" r="8.2"/><circle cx="1806.7" cy="669.1" r="8.2"/><circle cx="1806.7" cy="669.3" r="8.2"/><circle cx="1806.7" cy="670.7" r="8.2"/><circle cx="1806.7" cy="670.9" r="8.2"/><circle cx="1806.7" cy="672.4" r="8.2"/><circle cx="1806.7" cy="672.7" r="8.2"/><circle cx="1806.7" cy="672.9" r="8.2"/><circle cx="1806.7" cy="673.5" r="8.2"/><circle cx="1806.7" cy="675.3" r="8.2"/><circle cx="1806.7" cy="676.6" r="8.2"/><circle cx="1806.7" cy="677.1" r="8.2"/><circle cx="1806.7" cy="677.5" r="8.2"/><circle cx="1806.7" cy="680.7" r="8.2"/><circle cx="1806.7" cy="680.8" r="8.2"/><circle cx="1806.7" cy="681.1" r="8.2"/><circle cx="1806.7" cy="681.8" r="8.2"/><circle cx="1806.7" cy="681.9" r="8.2"/><circle cx="1806.7" cy="682.3" r="8.2"/><circle cx="1806.7" cy="683.4" r="8.2"/><circle cx="1806.7" cy="684.6" r="8.2"/><circle cx="1806.7" cy="685.4" r="8.2"/><circle cx="1806.7" cy="686" r="8.2"/><circle cx="1806.7" cy="686.4" r="8.2"/><circle cx="1806.7" cy="686.4" r="8.2"/><circle cx="1806.7" cy="686.9" r="8.2"/><circle cx="1806.7" cy="687" r="8.2"/><circle cx="1806.7" cy="689.3" r="8.2"/><circle cx="1806.7" cy="689.4" r="8.2"/><circle cx="1806.7" cy="689.9" r="8.2"/><circle cx="1806.7" cy="691.2" r="8.2"/><circle cx="1806.7" cy="691.6" r="8.2"/><circle cx="1806.7" cy="692.3" r="8.2"/><circle cx="1806.7" cy="692.4" r="8.2"/><circle cx="1806.7" cy="692.8" r="8.2"/><circle cx="1806.7" cy="693.6" r="8.2"/><circle cx="1806.7" cy="693.6" r="8.2"/><circle cx="1806.7" cy="696" r="8.2"/><circle cx="1806.7" cy="697.5" r="8.2"/><circle cx="1806.7" cy="701.5" r="8.2"/><circle cx="1806.7" cy="705.5" r="8.2"/><circle cx="1806.7" cy="706.2" r="8.2"/><circle cx="1806.7" cy="706.4" r="8.2"/><circle cx="1806.7" cy="706.7" r="8.2"/><circle cx="1806.7" cy="707.2" r="8.2"/><circle cx="1806.7" cy="707.5" r="8.2"/><circle cx="1806.7" cy="707.6" r="8.2"/><circle cx="1806.7" cy="708.1" r="8.2"/><circle cx="1806.7" cy="711.7" r="8.2"/><circle cx="1806.7" cy="712" r="8.2"/><circle cx="1806.7" cy="712.7" r="8.2"/><circle cx="1806.7" cy="714.6" r="8.2"/><circle cx="1806.7" cy="715.1" r="8.2"/><circle cx="1806.7" cy="715.4" r="8.2"/><circle cx="1806.7" cy="715.7" r="8.2"/><circle cx="1806.7" cy="716.1" r="8.2"/><circle cx="1806.7" cy="716.4" r="8.2"/><circle cx="1806.7" cy="716.7" r="8.2"/><circle cx="1806.7" cy="717.2" r="8.2"/><circle cx="1806.7" cy="717.5" r="8.2"/><circle cx="1806.7" cy="718" r="8.2"/><circle cx="1806.7" cy="718.1" r="8.2"/><circle cx="1806.7" cy="718.7" r="8.2"/><circle cx="1806.7" cy="718.9" r="8.2"/><circle cx="1806.7" cy="719.4" r="8.2"/><circle cx="1806.7" cy="723.3" r="8.2"/><circle cx="1806.7" cy="723.9" r="8.2"/><circle cx="1806.7" cy="724.4" r="8.2"/><circle cx="1806.7" cy="725.2" r="8.2"/><circle cx="1806.7" cy="725.9" r="8.2"/><circle cx="1806.7" cy="726" r="8.2"/><circle cx="1806.7" cy="726.7" r="8.2"/><circle cx="1806.7" cy="726.8" r="8.2"/><circle cx="1806.7" cy="726.8" r="8.2"/><circle cx="1806.7" cy="726.9" r="8.2"/><circle cx="1806.7" cy="727" r="8.2"/><circle cx="1806.7" cy="727.4" r="8.2"/><circle cx="1806.7" cy="728.7" r="8.2"/><circle cx="1806.7" cy="728.9" r="8.2"/><circle cx="1806.7" cy="729.2" r="8.2"/><circle cx="1806.7" cy="729.5" r="8.2"/><circle cx="1806.7" cy="730.6" r="8.2"/><circle cx="1806.7" cy="730.6" r="8.2"/><circle cx="1806.7" cy="731" r="8.2"/><circle cx="1806.7" cy="731.7" r="8.2"/><circle cx="1806.7" cy="732" r="8.2"/><circle cx="1806.7" cy="732.3" r="8.2"/><circle cx="1806.7" cy="732.7" r="8.2"/><circle cx="1806.7" cy="732.9" r="8.2"/><circle cx="1806.7" cy="733" r="8.2"/><circle cx="1806.7" cy="733.4" r="8.2"/><circle cx="1806.7" cy="733.5" r="8.2"/><circle cx="1806.7" cy="733.5" r="8.2"/><circle cx="1806.7" cy="733.9" r="8.2"/><circle cx="1806.7" cy="734.4" r="8.2"/><circle cx="1806.7" cy="735.3" r="8.2"/><circle cx="1806.7" cy="736" r="8.2"/><circle cx="1806.7" cy="736.3" r="8.2"/><circle cx="1806.7" cy="737" r="8.2"/><circle cx="1806.7" cy="737.7" r="8.2"/><circle cx="1806.7" cy="738.3" r="8.2"/><circle cx="1806.7" cy="738.7" r="8.2"/><circle cx="1806.7" cy="740.7" r="8.2"/><circle cx="1806.7" cy="740.9" r="8.2"/><circle cx="1806.7" cy="741.2" r="8.2"/><circle cx="1806.7" cy="741.2" r="8.2"/><circle cx="1806.7" cy="742" r="8.2"/><circle cx="1806.7" cy="742.2" r="8.2"/><circle cx="1806.7" cy="742.2" r="8.2"/><circle cx="1806.7" cy="742.5" r="8.2"/><circle cx="1806.7" cy="742.6" r="8.2"/><circle cx="1806.7" cy="742.9" r="8.2"/><circle cx="1806.7" cy="744.7" r="8.2"/><circle cx="1806.7" cy="745.2" r="8.2"/><circle cx="1806.7" cy="746.4" r="8.2"/><circle cx="1806.7" cy="746.8" r="8.2"/><circle cx="1806.7" cy="746.9" r="8.2"/><circle cx="1806.7" cy="747.1" r="8.2"/><circle cx="1806.7" cy="747.4" r="8.2"/><circle cx="1806.7" cy="748.4" r="8.2"/><circle cx="1806.7" cy="748.9" r="8.2"/><circle cx="1806.7" cy="749.3" r="8.2"/><circle cx="1806.7" cy="749.3" r="8.2"/><circle cx="1806.7" cy="749.6" r="8.2"/><circle cx="1806.7" cy="749.7" r="8.2"/><circle cx="1806.7" cy="750.4" r="8.2"/><circle cx="1806.7" cy="750.8" r="8.2"/><circle cx="1806.7" cy="750.8" r="8.2"/><circle cx="1806.7" cy="751.5" r="8.2"/><circle cx="1806.7" cy="751.9" r="8.2"/><circle cx="1806.7" cy="752.4" r="8.2"/><circle cx="1806.7" cy="752.4" r="8.2"/><circle cx="1806.7" cy="754.3" r="8.2"/><circle cx="1806.7" cy="754.8" r="8.2"/><circle cx="1806.7" cy="754.9" r="8.2"/><circle cx="1806.7" cy="755.9" r="8.2"/><circle cx="1806.7" cy="756.7" r="8.2"/><circle cx="1806.7" cy="757.6" r="8.2"/><circle cx="1806.7" cy="758.1" r="8.2"/><circle cx="1806.7" cy="758.5" r="8.2"/><circle cx="1806.7" cy="760" r="8.2"/><circle cx="1806.7" cy="760.3" r="8.2"/><circle cx="1806.7" cy="762.6" r="8.2"/><circle cx="1806.7" cy="763.5" r="8.2"/><circle cx="1806.7" cy="763.9" r="8.2"/><circle cx="1806.7" cy="764" r="8.2"/><circle cx="1806.7" cy="764.4" r="8.2"/><circle cx="1806.7" cy="765" r="8.2"/><circle cx="1806.7" cy="765.4" r="8.2"/><circle cx="1806.7" cy="765.8" r="8.2"/><circle cx="1806.7" cy="765.8" r="8.2"/><circle cx="1806.7" cy="766.2" r="8.2"/><circle cx="1806.7" cy="766.8" r="8.2"/><circle cx="1806.7" cy="767.2" r="8.2"/><circle cx="1806.7" cy="768.7" r="8.2"/><circle cx="1806.7" cy="768.9" r="8.2"/><circle cx="1806.7" cy="770.2" r="8.2"/><circle cx="1806.7" cy="771.2" r="8.2"/><circle cx="1806.7" cy="771.5" r="8.2"/><circle cx="1806.7" cy="773.5" r="8.2"/><circle cx="1806.7" cy="774.5" r="8.2"/><circle cx="1806.7" cy="774.5" r="8.2"/><circle cx="1806.7" cy="775.6" r="8.2"/><circle cx="1806.7" cy="775.9" r="8.2"/><circle cx="1806.7" cy="776.3" r="8.2"/><circle cx="1806.7" cy="777.2" r="8.2"/><circle cx="1806.7" cy="778" r="8.2"/><circle cx="1806.7" cy="778.1" r="8.2"/><circle cx="1806.7" cy="778.9" r="8.2"/><circle cx="1806.7" cy="779" r="8.2"/><circle cx="1806.7" cy="779.2" r="8.2"/><circle cx="1806.7" cy="779.4" r="8.2"/><circle cx="1806.7" cy="780.1" r="8.2"/><circle cx="1806.7" cy="780.1" r="8.2"/><circle cx="1806.7" cy="780.4" r="8.2"/><circle cx="1806.7" cy="781.8" r="8.2"/><circle cx="1806.7" cy="782.1" r="8.2"/><circle cx="1806.7" cy="783.4" r="8.2"/><circle cx="1806.7" cy="783.5" r="8.2"/><circle cx="1806.7" cy="785.3" r="8.2"/><circle cx="1806.7" cy="785.9" r="8.2"/><circle cx="1806.7" cy="786.9" r="8.2"/><circle cx="1806.7" cy="787.5" r="8.2"/><circle cx="1806.7" cy="788.6" r="8.2"/><circle cx="1806.7" cy="788.8" r="8.2"/><circle cx="1806.7" cy="788.8" r="8.2"/><circle cx="1806.7" cy="788.9" r="8.2"/><circle cx="1806.7" cy="789.4" r="8.2"/><circle cx="1806.7" cy="789.5" r="8.2"/><circle cx="1806.7" cy="789.7" r="8.2"/><circle cx="1806.7" cy="790.4" r="8.2"/><circle cx="1806.7" cy="791.5" r="8.2"/><circle cx="1806.7" cy="791.5" r="8.2"/><circle cx="1806.7" cy="792" r="8.2"/><circle cx="1806.7" cy="792.3" r="8.2"/><circle cx="1806.7" cy="792.3" r="8.2"/><circle cx="1806.7" cy="793.1" r="8.2"/><circle cx="1806.7" cy="793.3" r="8.2"/><circle cx="1806.7" cy="794.1" r="8.2"/><circle cx="1806.7" cy="794.7" r="8.2"/><circle cx="1806.7" cy="795.2" r="8.2"/><circle cx="1806.7" cy="795.3" r="8.2"/><circle cx="1806.7" cy="795.7" r="8.2"/><circle cx="1806.7" cy="796.7" r="8.2"/><circle cx="1806.7" cy="796.8" r="8.2"/><circle cx="1806.7" cy="797.2" r="8.2"/><circle cx="1806.7" cy="797.2" r="8.2"/><circle cx="1806.7" cy="797.4" r="8.2"/><circle cx="1806.7" cy="797.9" r="8.2"/><circle cx="1806.7" cy="797.9" r="8.2"/><circle cx="1806.7" cy="797.9" r="8.2"/><circle cx="1806.7" cy="798.2" r="8.2"/><circle cx="1806.7" cy="798.4" r="8.2"/><circle cx="1806.7" cy="799.1" r="8.2"/><circle cx="1806.7" cy="799.2" r="8.2"/><circle cx="1806.7" cy="799.3" r="8.2"/><circle cx="1806.7" cy="799.3" r="8.2"/><circle cx="1806.7" cy="799.5" r="8.2"/><circle cx="1806.7" cy="799.5" r="8.2"/><circle cx="1806.7" cy="800.1" r="8.2"/><circle cx="1806.7" cy="800.5" r="8.2"/><circle cx="1806.7" cy="800.9" r="8.2"/><circle cx="1806.7" cy="801" r="8.2"/><circle cx="1806.7" cy="801" r="8.2"/><circle cx="1806.7" cy="801.3" r="8.2"/><circle cx="1806.7" cy="801.5" r="8.2"/><circle cx="1806.7" cy="801.7" r="8.2"/><circle cx="1806.7" cy="801.7" r="8.2"/><circle cx="1806.7" cy="801.7" r="8.2"/><circle cx="1806.7" cy="802" r="8.2"/><circle cx="1806.7" cy="802.6" r="8.2"/><circle cx="1806.7" cy="803.1" r="8.2"/><circle cx="1806.7" cy="803.4" r="8.2"/><circle cx="1806.7" cy="803.4" r="8.2"/><circle cx="1806.7" cy="803.7" r="8.2"/><circle cx="1806.7" cy="803.9" r="8.2"/><circle cx="1806.7" cy="804.7" r="8.2"/><circle cx="1806.7" cy="805.1" r="8.2"/><circle cx="1806.7" cy="805.1" r="8.2"/><circle cx="1806.7" cy="805.4" r="8.2"/><circle cx="1806.7" cy="805.7" r="8.2"/><circle cx="1806.7" cy="806.3" r="8.2"/><circle cx="1806.7" cy="806.4" r="8.2"/><circle cx="1806.7" cy="807" r="8.2"/><circle cx="1806.7" cy="807.7" r="8.2"/><circle cx="1806.7" cy="807.8" r="8.2"/><circle cx="1806.7" cy="807.9" r="8.2"/><circle cx="1806.7" cy="808.6" r="8.2"/><circle cx="1806.7" cy="809.6" r="8.2"/><circle cx="1806.7" cy="809.7" r="8.2"/><circle cx="1806.7" cy="809.8" r="8.2"/><circle cx="1806.7" cy="810.2" r="8.2"/><circle cx="1806.7" cy="810.8" r="8.2"/><circle cx="1806.7" cy="810.9" r="8.2"/><circle cx="1806.7" cy="811.4" r="8.2"/><circle cx="1806.7" cy="811.6" r="8.2"/><circle cx="1806.7" cy="811.9" r="8.2"/><circle cx="1806.7" cy="812.4" r="8.2"/><circle cx="1806.7" cy="812.6" r="8.2"/><circle cx="1806.7" cy="813.3" r="8.2"/><circle cx="1806.7" cy="813.8" r="8.2"/><circle cx="1806.7" cy="813.8" r="8.2"/><circle cx="1806.7" cy="815" r="8.2"/><circle cx="1806.7" cy="815.9" r="8.2"/><circle cx="1806.7" cy="816" r="8.2"/><circle cx="1806.7" cy="817" r="8.2"/><circle cx="1806.7" cy="817.5" r="8.2"/><circle cx="1806.7" cy="817.9" r="8.2"/><circle cx="1806.7" cy="818.7" r="8.2"/><circle cx="1806.7" cy="819" r="8.2"/><circle cx="1806.7" cy="819" r="8.2"/><circle cx="1806.7" cy="819" r="8.2"/><circle cx="1806.7" cy="819.7" r="8.2"/><circle cx="1806.7" cy="820.2" r="8.2"/><circle cx="1806.7" cy="820.2" r="8.2"/><circle cx="1806.7" cy="820.8" r="8.2"/><circle cx="1806.7" cy="821.1" r="8.2"/><circle cx="1806.7" cy="821.1" r="8.2"/><circle cx="1806.7" cy="821.4" r="8.2"/><circle cx="1806.7" cy="821.6" r="8.2"/><circle cx="1806.7" cy="822.2" r="8.2"/><circle cx="1806.7" cy="822.4" r="8.2"/><circle cx="1806.7" cy="822.5" r="8.2"/><circle cx="1806.7" cy="822.7" r="8.2"/><circle cx="1806.7" cy="822.8" r="8.2"/><circle cx="1806.7" cy="823.1" r="8.2"/><circle cx="1806.7" cy="823.8" r="8.2"/><circle cx="1806.7" cy="823.9" r="8.2"/><circle cx="1806.7" cy="824.1" r="8.2"/><circle cx="1806.7" cy="824.1" r="8.2"/><circle cx="1806.7" cy="824.3" r="8.2"/><circle cx="1806.7" cy="824.3" r="8.2"/><circle cx="1806.7" cy="824.4" r="8.2"/><circle cx="1806.7" cy="824.6" r="8.2"/><circle cx="1806.7" cy="824.7" r="8.2"/><circle cx="1806.7" cy="824.7" r="8.2"/><circle cx="1806.7" cy="824.9" r="8.2"/><circle cx="1806.7" cy="825.6" r="8.2"/><circle cx="1806.7" cy="825.8" r="8.2"/><circle cx="1806.7" cy="826" r="8.2"/><circle cx="1806.7" cy="827" r="8.2"/><circle cx="1806.7" cy="827.4" r="8.2"/><circle cx="1806.7" cy="827.4" r="8.2"/><circle cx="1806.7" cy="827.8" r="8.2"/><circle cx="1806.7" cy="827.9" r="8.2"/><circle cx="1806.7" cy="828" r="8.2"/><circle cx="1806.7" cy="828.1" r="8.2"/><circle cx="1806.7" cy="828.5" r="8.2"/><circle cx="1806.7" cy="829.9" r="8.2"/><circle cx="1806.7" cy="830" r="8.2"/><circle cx="1806.7" cy="830.1" r="8.2"/><circle cx="1806.7" cy="830.2" r="8.2"/><circle cx="1806.7" cy="830.8" r="8.2"/><circle cx="1806.7" cy="830.8" r="8.2"/><circle cx="1806.7" cy="830.9" r="8.2"/><circle cx="1806.7" cy="831.7" r="8.2"/><circle cx="1806.7" cy="832" r="8.2"/><circle cx="1806.7" cy="832.2" r="8.2"/><circle cx="1806.7" cy="832.3" r="8.2"/><circle cx="1806.7" cy="832.3" r="8.2"/><circle cx="1806.7" cy="832.5" r="8.2"/><circle cx="1806.7" cy="832.5" r="8.2"/><circle cx="1806.7" cy="833" r="8.2"/><circle cx="1806.7" cy="833" r="8.2"/><circle cx="1806.7" cy="833.2" r="8.2"/><circle cx="1806.7" cy="833.5" r="8.2"/><circle cx="1806.7" cy="833.6" r="8.2"/><circle cx="1806.7" cy="834" r="8.2"/><circle cx="1806.7" cy="834.3" r="8.2"/><circle cx="1806.7" cy="834.7" r="8.2"/><circle cx="1806.7" cy="834.8" r="8.2"/><circle cx="1806.7" cy="834.8" r="8.2"/><circle cx="1806.7" cy="834.9" r="8.2"/><circle cx="1806.7" cy="835.3" r="8.2"/><circle cx="1806.7" cy="835.5" r="8.2"/><circle cx="1806.7" cy="835.7" r="8.2"/><circle cx="1806.7" cy="835.7" r="8.2"/><circle cx="1806.7" cy="836.3" r="8.2"/><circle cx="1806.7" cy="836.4" r="8.2"/><circle cx="1806.7" cy="836.6" r="8.2"/><circle cx="1806.7" cy="836.6" r="8.2"/><circle cx="1806.7" cy="836.9" r="8.2"/><circle cx="1806.7" cy="837" r="8.2"/><circle cx="1806.7" cy="837.1" r="8.2"/><circle cx="1806.7" cy="837.2" r="8.2"/><circle cx="1806.7" cy="837.3" r="8.2"/><circle cx="1806.7" cy="837.3" r="8.2"/><circle cx="1806.7" cy="837.3" r="8.2"/><circle cx="1806.7" cy="837.3" r="8.2"/><circle cx="1806.7" cy="837.4" r="8.2"/><circle cx="1806.7" cy="837.5" r="8.2"/><circle cx="1806.7" cy="837.6" r="8.2"/><circle cx="1806.7" cy="837.7" r="8.2"/><circle cx="1806.7" cy="837.9" r="8.2"/><circle cx="1806.7" cy="837.9" r="8.2"/><circle cx="1806.7" cy="837.9" r="8.2"/><circle cx="1806.7" cy="837.9" r="8.2"/><circle cx="1806.7" cy="838" r="8.2"/><circle cx="1806.7" cy="838" r="8.2"/><circle cx="1806.7" cy="838" r="8.2"/>
<circle cx="2034" cy="848.5" r="8.2"/><circle cx="2034" cy="852.5" r="8.2"/><circle cx="2034" cy="867" r="8.2"/><circle cx="2034" cy="870" r="8.2"/><circle cx="2034" cy="949" r="8.2"/><circle cx="2034" cy="878.2" r="8.2"/><circle cx="2034" cy="880.1" r="8.2"/><circle cx="2034" cy="880.4" r="8.2"/><circle cx="2034" cy="880.8" r="8.2"/><circle cx="2034" cy="881.3" r="8.2"/><circle cx="2034" cy="881.5" r="8.2"/><circle cx="2034" cy="881.8" r="8.2"/><circle cx="2034" cy="882" r="8.2"/><circle cx="2034" cy="883.1" r="8.2"/><circle cx="2034" cy="883.4" r="8.2"/><circle cx="2034" cy="883.9" r="8.2"/><circle cx="2034" cy="884.3" r="8.2"/><circle cx="2034" cy="884.3" r="8.2"/><circle cx="2034" cy="885.9" r="8.2"/><circle cx="2034" cy="886" r="8.2"/><circle cx="2034" cy="886" r="8.2"/><circle cx="2034" cy="887.1" r="8.2"/><circle cx="2034" cy="891.7" r="8.2"/><circle cx="2034" cy="891.7" r="8.2"/><circle cx="2034" cy="891.8" r="8.2"/><circle cx="2034" cy="892.4" r="8.2"/><circle cx="2034" cy="893.5" r="8.2"/><circle cx="2034" cy="895.7" r="8.2"/><circle cx="2034" cy="896.2" r="8.2"/><circle cx="2034" cy="897.1" r="8.2"/><circle cx="2034" cy="897.2" r="8.2"/><circle cx="2034" cy="897.7" r="8.2"/><circle cx="2034" cy="898.1" r="8.2"/><circle cx="2034" cy="899.2" r="8.2"/><circle cx="2034" cy="901.6" r="8.2"/><circle cx="2034" cy="902.2" r="8.2"/><circle cx="2034" cy="902.6" r="8.2"/><circle cx="2034" cy="902.8" r="8.2"/><circle cx="2034" cy="902.8" r="8.2"/><circle cx="2034" cy="906" r="8.2"/><circle cx="2034" cy="913.1" r="8.2"/><circle cx="2034" cy="913.5" r="8.2"/><circle cx="2034" cy="913.7" r="8.2"/><circle cx="2034" cy="915" r="8.2"/><circle cx="2034" cy="917.4" r="8.2"/><circle cx="2034" cy="918" r="8.2"/><circle cx="2034" cy="918.1" r="8.2"/><circle cx="2034" cy="918.2" r="8.2"/><circle cx="2034" cy="918.6" r="8.2"/><circle cx="2034" cy="919.6" r="8.2"/><circle cx="2034" cy="919.6" r="8.2"/><circle cx="2034" cy="920.4" r="8.2"/><circle cx="2034" cy="920.6" r="8.2"/><circle cx="2034" cy="920.7" r="8.2"/><circle cx="2034" cy="921.1" r="8.2"/><circle cx="2034" cy="921.5" r="8.2"/><circle cx="2034" cy="921.8" r="8.2"/><circle cx="2034" cy="922.5" r="8.2"/><circle cx="2034" cy="922.5" r="8.2"/><circle cx="2034" cy="922.8" r="8.2"/><circle cx="2034" cy="923" r="8.2"/><circle cx="2034" cy="923.9" r="8.2"/><circle cx="2034" cy="924.1" r="8.2"/><circle cx="2034" cy="924.7" r="8.2"/><circle cx="2034" cy="925.4" r="8.2"/><circle cx="2034" cy="925.8" r="8.2"/><circle cx="2034" cy="926.3" r="8.2"/><circle cx="2034" cy="926.5" r="8.2"/><circle cx="2034" cy="926.5" r="8.2"/><circle cx="2034" cy="927.7" r="8.2"/><circle cx="2034" cy="927.9" r="8.2"/><circle cx="2034" cy="928" r="8.2"/><circle cx="2034" cy="928.1" r="8.2"/><circle cx="2034" cy="928.5" r="8.2"/><circle cx="2034" cy="928.7" r="8.2"/><circle cx="2034" cy="928.8" r="8.2"/><circle cx="2034" cy="929.1" r="8.2"/><circle cx="2034" cy="929.3" r="8.2"/><circle cx="2034" cy="929.5" r="8.2"/><circle cx="2034" cy="929.6" r="8.2"/><circle cx="2034" cy="930.3" r="8.2"/><circle cx="2034" cy="931.1" r="8.2"/><circle cx="2034" cy="931.3" r="8.2"/><circle cx="2034" cy="931.9" r="8.2"/><circle cx="2034" cy="933.8" r="8.2"/><circle cx="2034" cy="933.9" r="8.2"/><circle cx="2034" cy="934.1" r="8.2"/><circle cx="2034" cy="934.2" r="8.2"/><circle cx="2034" cy="934.4" r="8.2"/><circle cx="2034" cy="934.5" r="8.2"/><circle cx="2034" cy="934.5" r="8.2"/><circle cx="2034" cy="934.5" r="8.2"/><circle cx="2034" cy="934.6" r="8.2"/><circle cx="2034" cy="934.7" r="8.2"/><circle cx="2034" cy="935" r="8.2"/>
</g>
<path stroke="#8f8f8f" stroke-width="1.1" fill="none" d="M1563.6 929.5V949.5M1806.7 838V949.5M2034 935V943"/>
<g stroke="#000" stroke-width="1.1">
<rect x="1478.3" y="933.2" width="170.5" height="8.1" fill="#e8868a"/>
<rect x="1721.9" y="881.7" width="170.5" height="30.6" fill="#b9dba1"/>
<rect x="1948.3" y="937.9" width="171.4" height="4" fill="#1e4a5f"/>
<path fill="none" stroke-width="1.8" d="M1478.3 937.2H1648.8M1721.9 898.5H1892.4M1948.3 939.9H2119.7"/>
</g>
</svg>
</body></html>
